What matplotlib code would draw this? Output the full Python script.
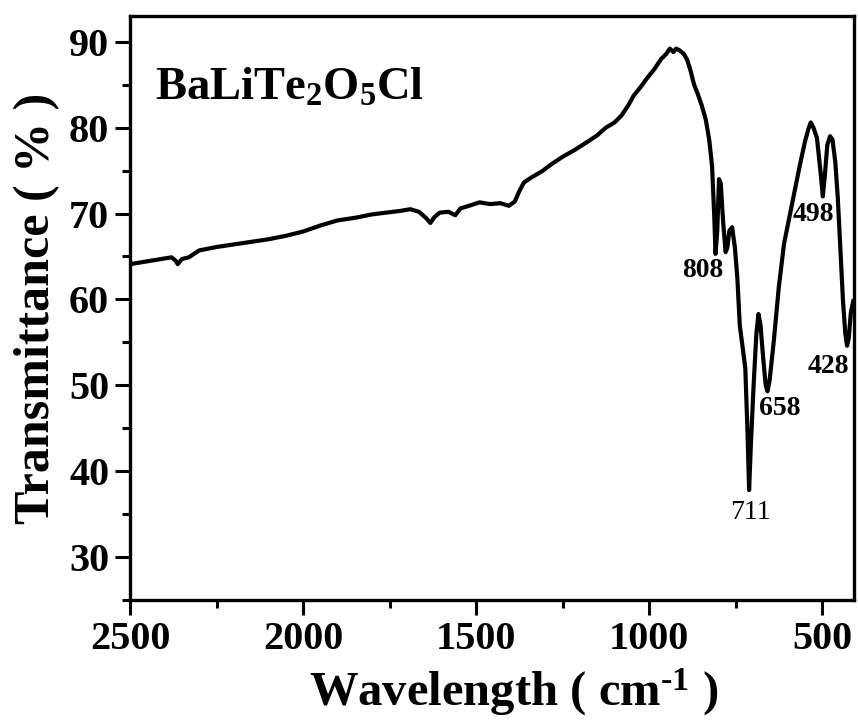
import matplotlib
matplotlib.use('Agg')
import matplotlib.pyplot as plt
from matplotlib.ticker import MultipleLocator

plt.rcParams['font.family'] = 'Liberation Serif'
plt.rcParams['font.weight'] = 'bold'
plt.rcParams['mathtext.fontset'] = 'custom'
plt.rcParams['mathtext.rm'] = 'Liberation Serif:bold'
plt.rcParams['mathtext.bf'] = 'Liberation Serif:bold'
plt.rcParams['mathtext.default'] = 'bf'

# FTIR spectrum (wavenumber in cm-1, transmittance in %)
wavenumber = [2500, 2440, 2380, 2368, 2362, 2350, 2330, 2300, 2250, 2200, 2150, 2100,
              2050, 2000, 1950, 1900, 1850, 1800, 1760, 1720, 1690, 1665, 1645, 1632,
              1620, 1605, 1580, 1560, 1545, 1520, 1490, 1460, 1430, 1405, 1388, 1375,
              1362, 1340, 1310, 1280, 1250, 1215, 1180, 1150, 1125, 1100, 1080, 1060,
              1045, 1025, 1005, 985, 965, 950, 940, 930, 922, 912, 900, 890, 880, 870,
              860, 848, 836, 826, 818, 812, 808, 803, 798, 793, 786, 779, 774, 768,
              760, 752, 745, 738, 730, 722, 716, 711, 706, 698, 690, 684, 678, 670,
              663, 658, 652, 640, 625, 610, 595, 580, 565, 550, 540, 533, 525, 515,
              505, 498, 492, 485, 477, 470, 462, 455, 448, 440, 433, 428, 423, 417, 410]
transmittance = [64.1, 64.5, 64.9, 64.5, 64.1, 64.7, 64.9, 65.7, 66.1, 66.4, 66.7, 67.0,
                 67.4, 67.9, 68.6, 69.2, 69.5, 69.9, 70.1, 70.3, 70.5, 70.2, 69.5, 68.9,
                 69.6, 70.1, 70.2, 69.8, 70.6, 70.9, 71.3, 71.1, 71.2, 70.9, 71.4, 72.6,
                 73.6, 74.2, 74.9, 75.8, 76.6, 77.4, 78.3, 79.1, 80.0, 80.6, 81.4, 82.6,
                 83.7, 84.7, 85.8, 86.8, 88.0, 88.6, 89.2, 88.8, 89.2, 89.0, 88.6, 87.9,
                 86.6, 85.0, 84.0, 82.6, 80.9, 78.5, 75.5, 70.0, 65.3, 68.0, 74.0, 73.5,
                 69.0, 65.5, 66.0, 68.0, 68.4, 66.0, 62.5, 57.0, 54.5, 52.0, 45.0, 37.8,
                 43.0, 50.0, 56.0, 58.3, 57.0, 53.0, 50.0, 49.3, 50.5, 55.0, 61.5, 66.5,
                 69.5, 72.5, 75.5, 78.3, 79.8, 80.6, 80.0, 78.8, 75.0, 72.0, 74.5, 78.0,
                 79.0, 78.6, 76.0, 72.0, 66.5, 60.0, 56.0, 54.6, 55.5, 58.5, 59.8]

# band labels and where their text sits
peak_labels = ['808', '498', '428', '658', '711']
label_x = [844, 526, 483, 622, 708]
label_y = [63.4, 69.9, 52.2, 47.3, 35.2]
label_weight = ['bold', 'bold', 'bold', 'bold', 'normal']

fig = plt.figure(figsize=(8.58, 7.2), dpi=100)
ax = fig.add_axes([0.1515, 0.1667, 0.8438, 0.8111])

ax.plot(wavenumber, transmittance, color='black', linewidth=3.0)

for lab, lx, ly, w in zip(peak_labels, label_x, label_y, label_weight):
    ax.text(lx, ly, lab, fontsize=20, fontweight=w, ha='center', va='center')

ax.text(0.034, 0.876, r'BaLiTe$_2$O$_5$Cl', transform=ax.transAxes,
        fontsize=33.5, fontweight='bold', ha='left', va='center')

ax.set_xlim(2500, 408)
ax.set_ylim(25, 93)
ax.xaxis.set_major_locator(MultipleLocator(500))
ax.xaxis.set_minor_locator(MultipleLocator(250))
ax.yaxis.set_major_locator(MultipleLocator(10))
ax.yaxis.set_minor_locator(MultipleLocator(5))
ax.set_yticks([30, 40, 50, 60, 70, 80, 90])

ax.tick_params(which='both', direction='out', width=2.2, top=False, right=False)
ax.tick_params(which='major', length=11, labelsize=29, pad=4)
ax.tick_params(which='minor', length=6)
for s in ax.spines.values():
    s.set_linewidth(2.4)

ax.set_xlabel(r'Wavelength ( cm$^{\text{-}1}$ )', fontsize=35, fontweight='bold')
ax.set_ylabel('Transmittance ( % )', fontsize=36, fontweight='bold')
ax.xaxis.set_label_coords(0.530, -0.114)
ax.yaxis.set_label_coords(-0.097, 0.5)

fig.savefig('out.png', dpi=100)
